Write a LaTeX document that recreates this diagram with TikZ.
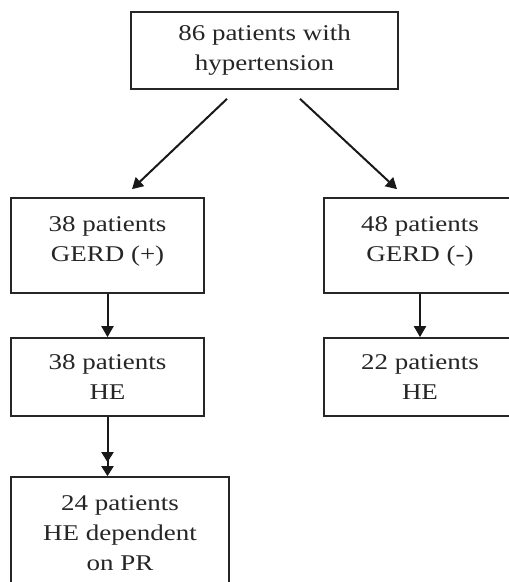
\documentclass[tikz,border=0pt]{standalone}
\usepackage{fontspec}
\setmainfont{Liberation Serif}[FakeStretch=1.2]
\usetikzlibrary{arrows.meta,calc}
\tikzset{
  box/.style={draw=black!85, line width=1.7pt, align=center, inner sep=0pt,
    font=\fontsize{22.5}{30}\selectfont, text=black!85},
  conn/.style={draw=black!90, line width=2pt, -{Triangle[length=11pt,width=12pt]}},
  conn2/.style={draw=black!90, line width=2pt, -{Triangle[length=10pt,width=12pt,sep=4pt]Triangle[length=10pt,width=12pt]}}
}
\begin{document}
\begin{tikzpicture}[x=1pt,y=-1pt]
\useasboundingbox (0,0) rectangle (509,582);
\clip (0,0) rectangle (509,582);
\fill[white] (0,0) rectangle (509,582);
\node[box, minimum width=267pt, minimum height=77pt] (top) at (264.5,50.5) {86 patients with\\hypertension};
\node[box, minimum width=193pt, minimum height=95pt] (g1) at (107.5,245.5) {38 patients\\GERD (+)\\[-17pt]};
\node[box, minimum width=192pt, minimum height=95pt] (g2) at (420,245.5) {48 patients\\GERD (-)\\[-17pt]};
\node[box, minimum width=193pt, minimum height=78pt] (h1) at (107.5,377) {38 patients\\HE};
\node[box, minimum width=192pt, minimum height=78pt] (h2) at (420,377) {22 patients\\HE};
\node[box, minimum width=218pt, minimum height=113pt] (d) at (120,533.5) {24 patients\\HE dependent\\on PR};
\coordinate (s1) at ($(top.south)+(-37.5,9)$);
\coordinate (e1) at ($(g1.north)+(24.5,-8)$);
\coordinate (s2) at ($(top.south)+(35.5,9)$);
\coordinate (e2) at ($(g2.north)+(-23,-8)$);
\draw[conn] (s1) -- (e1);
\draw[conn] (s2) -- (e2);
\draw[conn] (g1.south) -- (h1.north);
\draw[conn] (g2.south) -- (h2.north);
\draw[conn2] (h1.south) -- (h1.south |- d.north);
\end{tikzpicture}
\end{document}
